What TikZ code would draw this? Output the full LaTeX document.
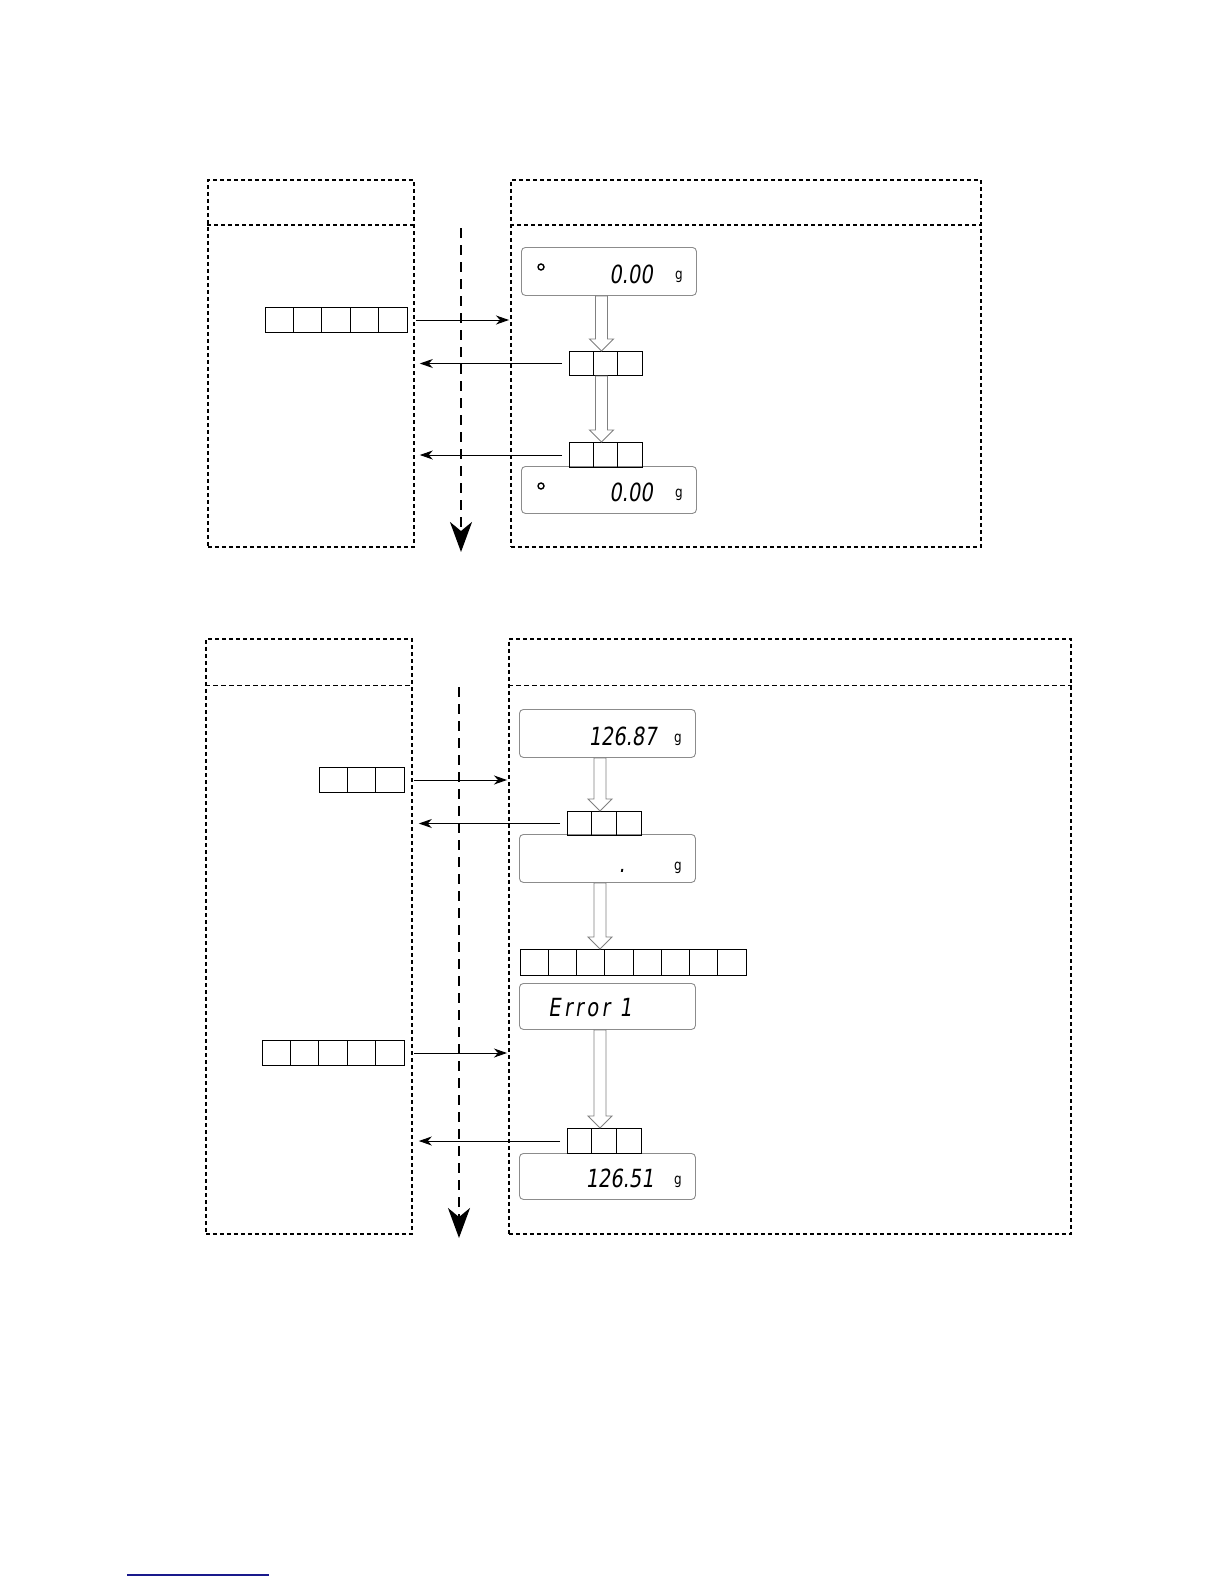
\documentclass[tikz,border=0pt]{standalone}
\usepackage{fontspec}
\usetikzlibrary{arrows.meta,calc}
\newfontfamily\lcd[FakeSlant=0.15,FakeStretch=0.78]{DejaVu Sans}
\newfontfamily\lcdsp[FakeSlant=0.15,FakeStretch=0.78,LetterSpace=14]{DejaVu Sans}
\newfontfamily\lcdunit[FakeStretch=0.8]{DejaVu Sans}
\definecolor{navyline}{RGB}{25,25,140}
\newcommand\cellrow[6]{%
  \node[cellbox, minimum width={#4*#5pt}, minimum height=#6pt] (#1) at (#2,#3) {};
  \pgfmathtruncatemacro\nlast{#4-1}
  \foreach \k in {1,...,\nlast}
    \draw[line width=1pt] ($(#1.north west)+(\k*#5,0)$) -- ($(#1.south west)+(\k*#5,0)$);
}
\begin{document}
\begin{tikzpicture}[x=1pt,y=-1pt,
  panel/.style={draw, line width=1.8pt, dash pattern=on 4pt off 3pt, inner sep=0, anchor=north west},
  hdr/.style={line width=1.8pt, dash pattern=on 4pt off 3pt},
  hdrthin/.style={line width=1pt, dash pattern=on 5pt off 3pt},
  flow/.style={line width=2.6pt, dash pattern=on 10pt off 7pt, -{Stealth[length=30pt,width=22pt,inset=9pt]}},
  conn/.style={line width=1pt, -{Stealth[length=13pt,width=9pt,inset=4pt]}},
  disp/.style={draw=black!45, line width=0.9pt, rounded corners=4pt, anchor=north west, inner sep=0},
  cellbox/.style={draw, line width=1pt, anchor=north west, inner sep=0},
  hollow/.style={draw=black!50, fill=white, line width=0.9pt,
    to path={let \p1=(\tikztostart), \p2=(\tikztotarget) in
      (\x1-6pt,\y1) -- (\x1-6pt,\y2+12pt) -- (\x1-12pt,\y2+12pt) -- (\x1,\y2)
      -- (\x1+12pt,\y2+12pt) -- (\x1+6pt,\y2+12pt) -- (\x1+6pt,\y1) -- cycle}},
  digits/.style={font=\lcd\fontsize{25}{25}\selectfont, anchor=east, inner sep=0},
  unit/.style={font=\lcdunit\fontsize{15}{15}\selectfont, anchor=base, inner sep=0},
  stab/.style={circle, draw, line width=1.4pt, minimum size=6pt, inner sep=0}
]
\useasboundingbox (0,0) rectangle (1224,1584);
\fill[white] (0,0) rectangle (1224,1584);

% ---------------- top diagram ----------------
\node[panel, minimum width=206pt, minimum height=367pt] (L1) at (207,179) {};
\node[panel, minimum width=470pt, minimum height=367pt] (R1) at (510,179) {};
\draw[hdr] ($(L1.north west)+(0,46)$) -- ($(L1.north east)+(0,46)$);
\draw[hdr] ($(R1.north west)+(0,46)$) -- ($(R1.north east)+(0,46)$);

\coordinate (fs1) at (461,228);
\coordinate (fe1) at (461,552);
\draw[flow] (fs1) -- (fe1);

\node[disp, minimum width=175pt, minimum height=48pt] (d1) at (521,247) {};
\node[stab] (s1) at (541,267) {};
\node[digits] (t1) at (653,274) {0.00};
\node[unit] (g1) at (679,279) {g};

\node[disp, minimum width=175pt, minimum height=47pt] (d2) at (521,466) {};
\node[stab] (s2) at (541,486) {};
\node[digits] (t2) at (653,492) {0.00};
\node[unit] (g2) at (679,497) {g};

\cellrow{r5a}{265}{307}{5}{28.4}{25}
\cellrow{c3a}{569}{351}{3}{24.3}{24}
\cellrow{c3b}{569}{442}{3}{24.3}{25}

\coordinate (ax1) at (601.5,0);
\draw[hollow] (d1.south -| ax1) to (c3a.north -| ax1);
\draw[hollow] (c3a.south -| ax1) to (c3b.north -| ax1);

\draw[conn, shorten <=8pt, shorten >=1pt] (r5a.east) -- (r5a.east -| R1.west);
\draw[conn, shorten <=7pt, shorten >=5pt] (c3a.west) -- (c3a.west -| L1.east);
\draw[conn, shorten <=7pt, shorten >=5pt] (c3b.west) -- (c3b.west -| L1.east);

% ---------------- bottom diagram ----------------
\node[panel, minimum width=206pt, minimum height=595pt] (L2) at (205,638) {};
\node[panel, minimum width=562pt, minimum height=595pt] (R2) at (508,638) {};
\draw[hdrthin] ($(L2.north west)+(0,47)$) -- ($(L2.north east)+(0,47)$);
\draw[hdrthin] ($(R2.north west)+(0,47)$) -- ($(R2.north east)+(0,47)$);

\coordinate (fs2) at (459,687);
\coordinate (fe2) at (459,1238);
\draw[flow, line width=2pt] (fs2) -- (fe2);

\node[disp, minimum width=176pt, minimum height=48pt] (dA) at (519,709) {};
\node[digits] (tA) at (657,736) {126.87};
\node[unit] (gA) at (678,742) {g};

\node[disp, minimum width=176pt, minimum height=48pt] (dB) at (519,834) {};
\node[font=\lcd\fontsize{25}{25}\selectfont, anchor=base, inner sep=0] (tB) at (622,872) {.};
\node[unit] (gB) at (678,870) {g};

\node[disp, minimum width=176pt, minimum height=46pt] (dC) at (519,983) {};
\node[font=\lcdsp\fontsize{25}{25}\selectfont, anchor=west, inner sep=0] (tC) at (548,1008) {Error 1};

\node[disp, minimum width=176pt, minimum height=46pt] (dD) at (519,1153) {};
\node[digits] (tD) at (654,1178) {126.51};
\node[unit] (gD) at (678,1184) {g};

\cellrow{b3}{319}{767}{3}{28.3}{25}
\cellrow{c3c}{567}{811}{3}{24.7}{24}
\cellrow{c8}{520}{949}{8}{28.25}{26}
\cellrow{b5}{262}{1040}{5}{28.4}{25}
\cellrow{c3d}{567}{1128}{3}{24.7}{25}

\coordinate (ax2) at (600,0);
\draw[hollow] (dA.south -| ax2) to (c3c.north -| ax2);
\draw[hollow] (dB.south -| ax2) to (c8.north -| ax2);
\draw[hollow] (dC.south -| ax2) to (c3d.north -| ax2);

\draw[conn, shorten <=9pt, shorten >=1pt] (b3.east) -- (b3.east -| R2.west);
\draw[conn, shorten <=9pt, shorten >=1pt] (b5.east) -- (b5.east -| R2.west);
\draw[conn, shorten <=7pt, shorten >=6pt] (c3c.west) -- (c3c.west -| L2.east);
\draw[conn, shorten <=7pt, shorten >=6pt] (c3d.west) -- (c3d.west -| L2.east);

% footer line
\draw[navyline, line width=1.5pt] (127,1575) -- (269,1575);
\end{tikzpicture}
\end{document}
